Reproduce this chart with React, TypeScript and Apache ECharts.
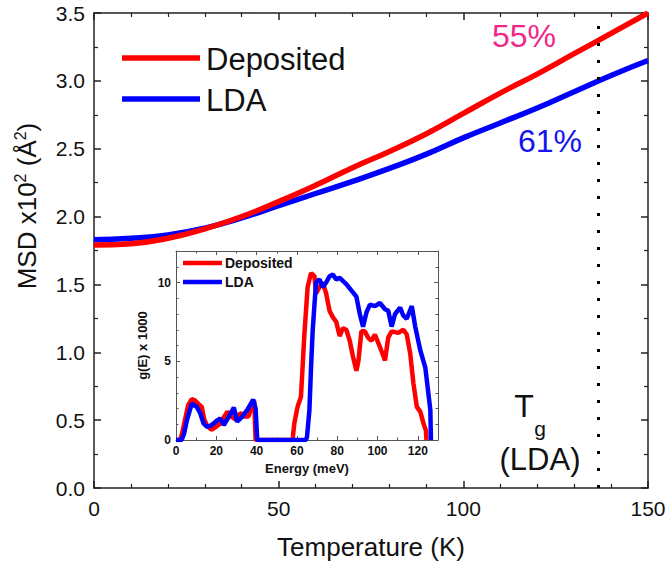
import React, { useEffect, useRef } from 'react';
import * as echarts from 'echarts';

// Main panel: MSD vs temperature
const tempK = [0, 10, 20, 30, 40, 50, 60, 70, 80, 90, 100, 110, 120, 130, 140, 150];
const msdDeposited = [1.79, 1.80, 1.84, 1.91, 2.00, 2.11, 2.23, 2.36, 2.48, 2.61, 2.76, 2.91, 3.05, 3.20, 3.35, 3.50];
const msdLDA = [1.83, 1.84, 1.865, 1.915, 1.99, 2.08, 2.17, 2.26, 2.355, 2.46, 2.58, 2.69, 2.80, 2.92, 3.04, 3.15];
const tgLDA = 136.4;
const mainXTicks = [0, 50, 100, 150];
const mainYTicks = [0, 0.5, 1.0, 1.5, 2.0, 2.5, 3.0, 3.5];

// Inset: g(E) x 1000 vs energy (meV)
const energyDeposited = [0, 2, 3, 4.5, 6, 7.8, 9.5, 11, 12.8, 14, 15.5, 17.5, 19.5, 22, 24, 25.5, 27.5, 29.5, 31, 32.5, 34, 36, 37.5, 38.8, 39.5, 57.8, 58, 58.7, 60.3, 62, 63.7, 65.3, 67, 68.7, 69.5, 71.2, 72.8, 74.5, 76.2, 77.8, 79.5, 81.2, 82.8, 84.5, 86.2, 87.8, 89.5, 90.5, 92, 93.7, 95.3, 97, 98.7, 101.2, 103.7, 105.3, 107, 110.3, 112.8, 114.5, 116.2, 117.8, 119.5, 121.2, 122.8, 124, 124.3];
const gDeposited = [0, 0, 0.4, 1.3, 2.2, 2.6, 2.5, 2.3, 2.1, 1.3, 0.9, 0.65, 0.8, 1.05, 1.5, 1.8, 1.5, 1.3, 1.6, 1.7, 1.5, 1.5, 2.1, 2.5, 0, 0, 0.2, 1.05, 2.1, 2.74, 6.7, 9.7, 10.6, 10.4, 9.3, 9.7, 10.0, 9.3, 8.2, 7.8, 7.5, 6.6, 7.1, 7.0, 6.3, 5.3, 4.4, 5.0, 6.9, 6.9, 6.5, 6.3, 6.7, 5.9, 5.05, 6.5, 6.9, 6.8, 7.0, 6.7, 5.5, 3.6, 2.1, 1.8, 1.05, 0.6, 0];
const energyLDA = [0, 2.8, 4, 5.5, 7.8, 10.3, 12, 13.7, 15.3, 17, 18.7, 20.5, 22, 23.7, 26.2, 28.7, 30.3, 32.8, 35.3, 38.3, 39.5, 40.3, 64.5, 65, 66.2, 67, 67.8, 68.7, 69.5, 71.2, 72.8, 74.5, 76.2, 77.8, 79.5, 81.2, 82.8, 84.5, 87, 89.5, 91.2, 92.8, 94.5, 96.2, 98.7, 101.2, 103.7, 105.3, 107, 108.7, 111.2, 112.8, 114.5, 117, 118.7, 121.2, 123.7, 125, 126.2, 126.5];
const gLDA = [0, 0, 0.4, 1.3, 2.3, 2.1, 1.7, 1.05, 0.84, 0.9, 1.05, 1.25, 1.37, 0.95, 1.47, 2.06, 1.16, 1.47, 1.9, 2.57, 2.0, 0, 0, 0.2, 1.9, 4.6, 6.9, 8.6, 10.0, 10.2, 9.7, 10.0, 10.4, 10.5, 10.2, 10.3, 10.1, 9.9, 9.5, 9.1, 8.0, 7.2, 8.1, 8.6, 8.5, 8.7, 8.3, 8.2, 7.2, 8.0, 8.4, 7.9, 7.7, 8.5, 7.2, 5.7, 4.6, 3.2, 1.9, 0];

const FONT = '"Liberation Sans", Arial, Helvetica, sans-serif';
const RED = '#ff0000';
const BLUE = '#0000ff';
const AXIS = '#222222';
const TXT = '#111111';

const zip = (xs: number[], ys: number[]) => xs.map((x, i) => [x, ys[i]]);

function mainAxis(extra: any, showLabel: boolean) {
  return {
    type: 'value',
    gridIndex: 0,
    splitLine: { show: false },
    axisLine: { show: true, onZero: false, lineStyle: { color: AXIS, width: 1.5 } },
    axisTick: { show: true, inside: true, length: 7, lineStyle: { color: AXIS, width: 1.5 } },
    minorTick: { show: true, length: 4, lineStyle: { color: AXIS, width: 1.2 } },
    axisLabel: { show: showLabel, fontSize: 21, color: TXT, fontFamily: FONT },
    ...extra,
  };
}

function insetAxis(extra: any, showLabel: boolean) {
  return {
    type: 'value',
    gridIndex: 1,
    splitLine: { show: false },
    axisLine: { show: true, onZero: false, lineStyle: { color: '#555', width: 1 } },
    axisTick: { show: true, inside: true, length: 4, lineStyle: { color: '#555', width: 1 } },
    minorTick: { show: true, length: 2.5, lineStyle: { color: '#555', width: 1 } },
    axisLabel: { show: showLabel, fontSize: 12, fontWeight: 'bold', color: TXT, fontFamily: FONT, margin: 5, showMaxLabel: false },
    ...extra,
  };
}

const centered = { align: 'center', verticalAlign: 'middle', textAlign: 'center', textVerticalAlign: 'middle' };

export default function App() {
  const ref = useRef<HTMLDivElement>(null);
  useEffect(() => {
    const chart = echarts.init(ref.current!, null, { renderer: 'svg' });
    const option: any = {
      animation: false,
      backgroundColor: '#ffffff',
      grid: [
        { left: 94, top: 13, width: 554, height: 475, outerBoundsMode: 'none', containLabel: false },
        { left: 176, top: 251, width: 262, height: 189, outerBoundsMode: 'none', containLabel: false },
      ],
      xAxis: [
        mainAxis({
          position: 'bottom', min: mainXTicks[0], max: mainXTicks[mainXTicks.length - 1], interval: 50,
          minorTick: { show: true, splitNumber: 5, length: 4, lineStyle: { color: AXIS, width: 1.2 } },
          axisLabel: { show: true, fontSize: 21, color: TXT, fontFamily: FONT, margin: 10 },
          name: 'Temperature (K)', nameLocation: 'middle', nameGap: 46,
          nameTextStyle: { fontSize: 26, color: TXT, fontFamily: FONT },
        }, true),
        mainAxis({
          position: 'top', min: 0, max: 150, interval: 50,
          minorTick: { show: true, splitNumber: 5, length: 4, lineStyle: { color: AXIS, width: 1.2 } },
        }, false),
        insetAxis({
          position: 'bottom', min: 0, max: 130, interval: 20,
          minorTick: { show: true, splitNumber: 2, length: 2.5, lineStyle: { color: '#555', width: 1 } },
          name: 'Energy (meV)', nameLocation: 'middle', nameGap: 22,
          nameTextStyle: { fontSize: 13, fontWeight: 'bold', color: TXT, fontFamily: FONT },
        }, true),
        insetAxis({
          position: 'top', min: 0, max: 130, interval: 20,
          minorTick: { show: true, splitNumber: 2, length: 2.5, lineStyle: { color: '#555', width: 1 } },
        }, false),
      ],
      yAxis: [
        mainAxis({
          position: 'left', min: mainYTicks[0], max: mainYTicks[mainYTicks.length - 1], interval: 0.5,
          minorTick: { show: true, splitNumber: 2, length: 4, lineStyle: { color: AXIS, width: 1.2 } },
          axisLabel: { show: true, fontSize: 21, color: TXT, fontFamily: FONT, margin: 9, formatter: (v: number) => v.toFixed(1) },
        }, true),
        mainAxis({
          position: 'right', min: 0, max: 3.5, interval: 0.5,
          minorTick: { show: true, splitNumber: 2, length: 4, lineStyle: { color: AXIS, width: 1.2 } },
        }, false),
        insetAxis({
          position: 'left', min: 0, max: 12, interval: 5,
          minorTick: { show: true, splitNumber: 5, length: 2.5, lineStyle: { color: '#555', width: 1 } },
          name: 'g(E) x 1000', nameLocation: 'middle', nameGap: 27,
          nameTextStyle: { fontSize: 13, fontWeight: 'bold', color: TXT, fontFamily: FONT },
        }, true),
        insetAxis({
          position: 'right', min: 0, max: 12, interval: 5,
          minorTick: { show: true, splitNumber: 5, length: 2.5, lineStyle: { color: '#555', width: 1 } },
        }, false),
      ],
      series: [
        {
          name: 'LDA', type: 'line', xAxisIndex: 0, yAxisIndex: 0, smooth: true, showSymbol: false,
          data: zip(tempK, msdLDA), lineStyle: { color: BLUE, width: 5.5 }, itemStyle: { color: BLUE },
          silent: true,
        },
        {
          name: 'Deposited', type: 'line', xAxisIndex: 0, yAxisIndex: 0, smooth: true, showSymbol: false,
          data: zip(tempK, msdDeposited), lineStyle: { color: RED, width: 5.5 }, itemStyle: { color: RED },
          silent: true,
          markLine: {
            silent: true, symbol: 'none', label: { show: false },
            lineStyle: { color: '#000', type: [3, 14], width: 3 },
            data: [{ xAxis: tgLDA }],
          },
        },
        {
          name: 'Deposited (g(E))', type: 'line', xAxisIndex: 2, yAxisIndex: 2, showSymbol: false,
          data: zip(energyDeposited, gDeposited), lineStyle: { color: RED, width: 4.5 }, itemStyle: { color: RED },
          silent: true,
        },
        {
          name: 'LDA (g(E))', type: 'line', xAxisIndex: 2, yAxisIndex: 2, showSymbol: false,
          data: zip(energyLDA, gLDA), lineStyle: { color: BLUE, width: 4.5 }, itemStyle: { color: BLUE },
          silent: true,
        },
      ],
      graphic: [
        // y axis title (rotated, superscripts raised with bottom padding)
        {
          type: 'text', x: 27, y: 206, rotation: Math.PI / 2,
          style: {
            text: '{a|MSD x10}{s|2}{a| (Å}{s|2}{a|)}',
            ...centered,
            rich: {
              a: { fontSize: 26, fontFamily: FONT, fill: TXT, color: TXT },
              s: { fontSize: 16, fontFamily: FONT, fill: TXT, color: TXT, padding: [0, 0, 13, 0] },
            },
          },
        },
        // main legend
        { type: 'line', shape: { x1: 122, y1: 58, x2: 200, y2: 58 }, style: { stroke: RED, lineWidth: 5.5 } },
        { type: 'text', x: 206, y: 59, style: { text: 'Deposited', fontSize: 31, fontFamily: FONT, fill: TXT, verticalAlign: 'middle', textVerticalAlign: 'middle' } },
        { type: 'line', shape: { x1: 122, y1: 99, x2: 200, y2: 99 }, style: { stroke: BLUE, lineWidth: 5.5 } },
        { type: 'text', x: 206, y: 100, style: { text: 'LDA', fontSize: 31, fontFamily: FONT, fill: TXT, verticalAlign: 'middle', textVerticalAlign: 'middle' } },
        // percentages
        { type: 'text', x: 524, y: 36, style: { text: '55%', fontSize: 32, fontFamily: FONT, fill: '#f0278a', ...centered } },
        { type: 'text', x: 550, y: 141, style: { text: '61%', fontSize: 32, fontFamily: FONT, fill: '#1414f0', ...centered } },
        // Tg (LDA)
        { type: 'text', x: 524, y: 406, style: { text: 'T', fontSize: 32, fontFamily: FONT, fill: TXT, ...centered } },
        { type: 'text', x: 540, y: 428, style: { text: 'g', fontSize: 21, fontFamily: FONT, fill: TXT, ...centered } },
        { type: 'text', x: 540, y: 459, style: { text: '(LDA)', fontSize: 31, fontFamily: FONT, fill: TXT, ...centered } },
        // inset legend
        { type: 'line', shape: { x1: 183, y1: 263, x2: 222, y2: 263 }, style: { stroke: RED, lineWidth: 4.5 } },
        { type: 'text', x: 225, y: 263, style: { text: 'Deposited', fontSize: 14, fontWeight: 'bold', fontFamily: FONT, fill: TXT, verticalAlign: 'middle', textVerticalAlign: 'middle' } },
        { type: 'line', shape: { x1: 183, y1: 282, x2: 222, y2: 282 }, style: { stroke: BLUE, lineWidth: 4.5 } },
        { type: 'text', x: 225, y: 282, style: { text: 'LDA', fontSize: 14, fontWeight: 'bold', fontFamily: FONT, fill: TXT, verticalAlign: 'middle', textVerticalAlign: 'middle' } },
      ],
    };
    chart.setOption(option);
    return () => chart.dispose();
  }, []);
  return (
    <div
      ref={ref}
      style={{ position: 'fixed', left: 0, top: 0, width: 666, height: 570, background: '#fff' }}
    />
  );
}
